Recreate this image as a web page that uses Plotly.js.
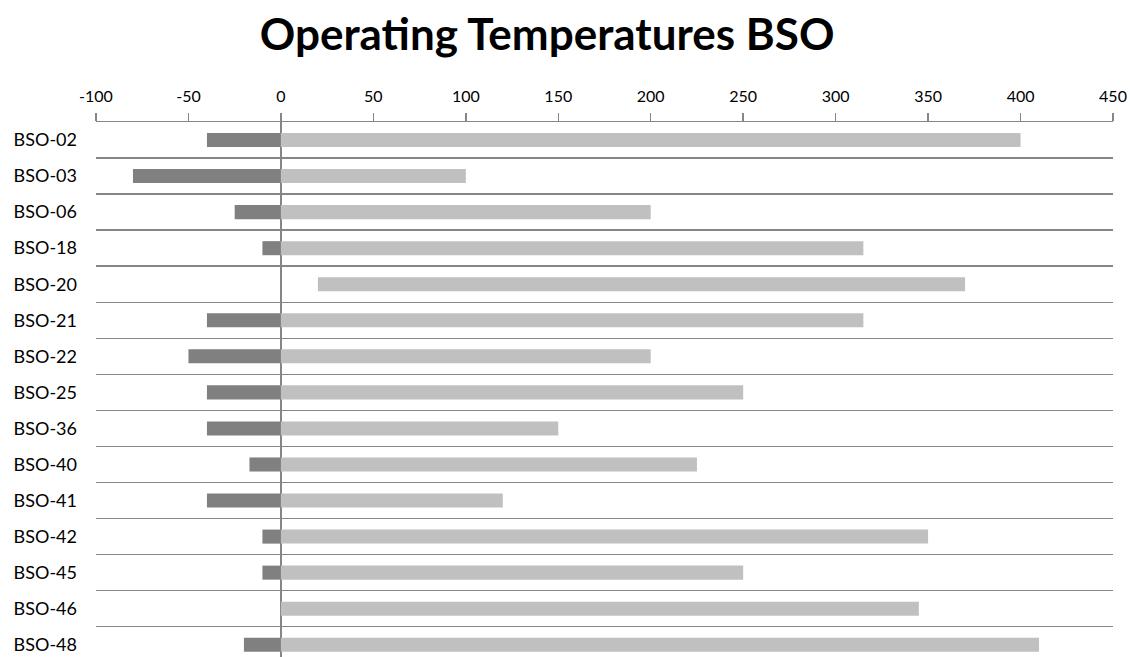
<!DOCTYPE html>
<html>
<head>
<meta charset="utf-8">
<script src="https://cdn.plot.ly/plotly-3.0.1.min.js"></script>
<style>html,body{margin:0;padding:0;background:#fff;}#chart{width:1130px;height:657px;}</style>
</head>
<body>
<div id="chart"></div>
<script>
const categories = ["BSO-02","BSO-03","BSO-06","BSO-18","BSO-20","BSO-21","BSO-22","BSO-25","BSO-36","BSO-40","BSO-41","BSO-42","BSO-45","BSO-46","BSO-48"];
const minTemp = [-40,-80,-25,-10,20,-40,-50,-40,-40,-17,-40,-10,-10,0,-20];
const maxTemp = [400,100,200,315,370,315,200,250,150,225,120,350,250,345,410];
const xTickVals = [-100,-50,0,50,100,150,200,250,300,350,400,450];

const darkBase = minTemp.map(v => Math.min(v, 0));
const darkLen = minTemp.map(v => v < 0 ? -v : 0);
const lightBase = minTemp.map(v => Math.max(v, 0));
const lightLen = maxTemp.map((v, i) => v - lightBase[i]);

const traces = [
  {type:'bar', orientation:'h', y:categories, x:darkLen, base:darkBase,
   marker:{color:'#808080', line:{width:0}}, hoverinfo:'skip', showlegend:false},
  {type:'bar', orientation:'h', y:categories, x:lightLen, base:lightBase,
   marker:{color:'#c0c0c0', line:{width:0}}, hoverinfo:'skip', showlegend:false}
];

const layout = {
  width:1130, height:657,
  margin:{l:96, r:17, t:122, b:0},
  paper_bgcolor:'#fff', plot_bgcolor:'#fff',
  barmode:'overlay', bargap:0.61,
  font:{family:'Lato, "Open Sans", sans-serif', color:'#000'},
  title:{text:'<b>Operating Temperatures BSO</b>', font:{size:44, family:'Lato, sans-serif', color:'#000'},
         x:0.4436, xref:'paper', xanchor:'center', y:0.948, yref:'container', yanchor:'middle'},
  xaxis:{side:'top', range:[-100,450], tickvals:xTickVals, ticktext:xTickVals.map(String),
         showgrid:false, showline:true, linecolor:'#868686', linewidth:1.5,
         ticks:'outside', ticklen:8, tickwidth:1.5, tickcolor:'#868686',
         zeroline:true, zerolinecolor:'#868686', zerolinewidth:1.5, ticklabelstandoff:4,
         tickfont:{size:16, color:'#000'}, fixedrange:true},
  yaxis:{type:'category', categoryorder:'array', categoryarray:categories,
         range:[14.34,-0.5], tickson:'boundaries', showgrid:true, gridcolor:'#868686', gridwidth:1.5,
         ticks:'', showline:false, zeroline:false, ticklabelstandoff:18,
         tickfont:{size:18, color:'#000'}, fixedrange:true}
};

Plotly.newPlot('chart', traces, layout, {displayModeBar:false, staticPlot:true});
</script>
</body>
</html>
